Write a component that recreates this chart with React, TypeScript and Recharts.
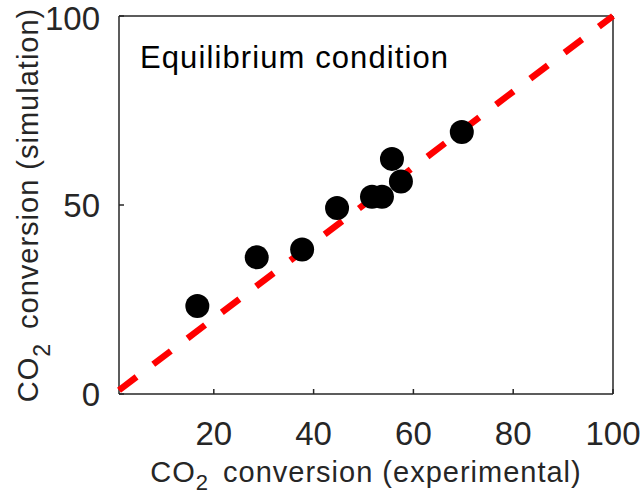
import React from 'react';
import { ScatterChart, Scatter, XAxis, YAxis } from 'recharts';

const experimental = [16.7, 28.6, 37.7, 44.7, 51.7, 53.7, 55.7, 57.5, 69.7];
const simulation = [23.3, 36.2, 38.2, 49.2, 52.2, 52.2, 62.2, 56.2, 69.3];
const parityX = [1, 100];
const parityY = [1, 100];
const xTicks = [20, 40, 60, 80, 100];
const yTicks = [0, 50, 100];

const points = experimental.map((x, i) => ({ x, y: simulation[i] }));
const parity = parityX.map((x, i) => ({ x, y: parityY[i] }));

const FONT = '"Liberation Sans", Arial, Helvetica, sans-serif';
const AXIS = '#262626';
const TICK_LEN = 5;

const BottomTick = ({ x, y, payload }: any) => (
  <g>
    <line x1={x} y1={y} x2={x} y2={y - TICK_LEN} stroke={AXIS} strokeWidth={1.5} />
    <text x={x} y={y + 51} textAnchor="middle" fontSize={33} fontFamily={FONT} fill={AXIS}>
      {payload.value}
    </text>
  </g>
);

const TopTick = ({ x, y }: any) => (
  <line x1={x} y1={y} x2={x} y2={y + TICK_LEN} stroke={AXIS} strokeWidth={1.5} />
);

// keep the top label inside the page
const LeftTick = ({ x, y, payload }: any) => (
  <g>
    <line x1={x} y1={y} x2={x + TICK_LEN} y2={y} stroke={AXIS} strokeWidth={1.5} />
    <text x={x - 19} y={Math.max(y + 12, 30)} textAnchor="end" fontSize={33} fontFamily={FONT} fill={AXIS}>
      {payload.value}
    </text>
  </g>
);

const RightTick = ({ x, y }: any) => (
  <line x1={x} y1={y} x2={x - TICK_LEN} y2={y} stroke={AXIS} strokeWidth={1.5} />
);

const XTitle = ({ viewBox }: any) => (
  <text
    x={viewBox.x + viewBox.width / 2}
    y={viewBox.y + 88}
    textAnchor="middle"
    fontSize={29}
    fontFamily={FONT}
    fill={AXIS}
    letterSpacing={1}
  >
    CO<tspan fontSize={22} dy={8}>2</tspan>
    <tspan dy={-8} dx={14}>conversion (experimental)</tspan>
  </text>
);

const YTitle = ({ viewBox }: any) => {
  const cx = 38;
  const cy = viewBox.y + viewBox.height / 2;
  return (
    <text
      x={cx}
      y={cy}
      transform={`rotate(-90 ${cx} ${cy})`}
      textAnchor="middle"
      fontSize={29}
      fontFamily={FONT}
      fill={AXIS}
      letterSpacing={1}
    >
      CO<tspan fontSize={23} dy={12}>2</tspan>
      <tspan dy={-12} dx={14}>conversion (simulation)</tspan>
    </text>
  );
};

const Title = ({ viewBox }: any) => (
  <text x={viewBox.x + 21} y={67.7} fontSize={31} fontFamily={FONT} fill="#000" letterSpacing={1.1}>
    Equilibrium condition
  </text>
);

const Dot = ({ cx, cy }: any) => <circle cx={cx} cy={cy} r={12} fill="#000" />;

export default function App() {
  return (
    <div style={{ position: 'absolute', left: 0, top: 0, width: 644, height: 496, background: '#fff' }}>
      <ScatterChart width={644} height={496} margin={{ top: 0, right: 0, bottom: 0, left: 0 }}>
        <XAxis
          xAxisId="b"
          type="number"
          dataKey="x"
          domain={[1, 100]}
          ticks={xTicks}
          interval={0}
          height={102}
          tickSize={0}
          tickMargin={0}
          tickLine={false}
          axisLine={{ stroke: AXIS, strokeWidth: 1.5 }}
          tick={<BottomTick />}
          label={{ content: (p: any) => <XTitle {...p} /> }}
        />
        <XAxis
          xAxisId="t"
          orientation="top"
          type="number"
          dataKey="x"
          domain={[1, 100]}
          ticks={xTicks}
          interval={0}
          height={16}
          tickSize={0}
          tickMargin={0}
          tickLine={false}
          axisLine={{ stroke: AXIS, strokeWidth: 1.5 }}
          tick={<TopTick />}
          label={{ content: (p: any) => <Title {...p} /> }}
        />
        <YAxis
          yAxisId="l"
          type="number"
          dataKey="y"
          domain={[0, 100]}
          ticks={yTicks}
          interval={0}
          width={119}
          tickSize={0}
          tickMargin={0}
          tickLine={false}
          axisLine={{ stroke: AXIS, strokeWidth: 1.5 }}
          tick={<LeftTick />}
          label={{ content: (p: any) => <YTitle {...p} /> }}
        />
        <YAxis
          yAxisId="r"
          orientation="right"
          type="number"
          dataKey="y"
          domain={[0, 100]}
          ticks={yTicks}
          interval={0}
          width={31}
          tickSize={0}
          tickMargin={0}
          tickLine={false}
          axisLine={{ stroke: AXIS, strokeWidth: 1.5 }}
          tick={<RightTick />}
        />
        {/* parity line */}
        <Scatter
          xAxisId="b"
          yAxisId="l"
          data={parity}
          line={{ stroke: '#ff0000', strokeWidth: 6.5, strokeDasharray: '22 21' }}
          shape={() => <g />}
          isAnimationActive={false}
        />
        <Scatter xAxisId="b" yAxisId="l" data={points} shape={<Dot />} isAnimationActive={false} />
      </ScatterChart>
    </div>
  );
}
